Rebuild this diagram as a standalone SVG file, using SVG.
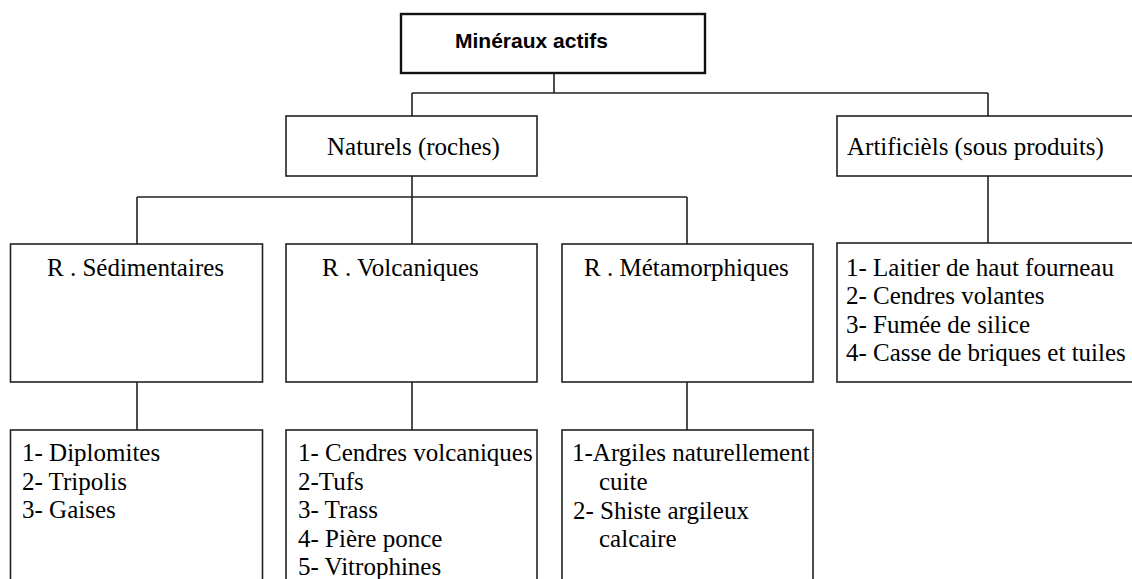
<svg xmlns="http://www.w3.org/2000/svg" width="1132" height="579" viewBox="0 0 1132 579">
<style>
.box{fill:#fff;stroke:#222;stroke-width:1.6}
.top{fill:#fff;stroke:#111;stroke-width:2.4}
.ln{fill:none;stroke:#222;stroke-width:1.6}
.t{font-family:"Liberation Serif","Times New Roman",serif;font-size:25px;fill:#000}
.b{font-family:"Liberation Sans",Arial,sans-serif;font-size:21px;font-weight:bold;fill:#000}
</style>
<rect width="1132" height="579" fill="#fff"/>
<g id="connectors">
<path class="ln" d="M554,73 V93 M412,93 H988 M412,93 V116 M988,93 V116"/>
<path class="ln" d="M412,176 V197 M137,197 H687 M137,197 V244 M412,197 V244 M687,197 V244"/>
<path class="ln" d="M988,176 V243"/>
<path class="ln" d="M137,382 V430 M412,382 V430 M687,382 V430"/>
</g>
<g id="n-mineraux">
<rect class="top" x="401" y="14" width="304" height="59"/>
<text class="b" x="455" y="48">Minéraux actifs</text>
</g>
<g id="n-naturels">
<rect class="box" x="286" y="116" width="251" height="60"/>
<text class="t" x="327" y="155">Naturels (roches)</text>
</g>
<g id="n-artificiels">
<rect class="box" x="837" y="116" width="302" height="60"/>
<text class="t" x="847" y="155">Artificièls (sous produits)</text>
</g>
<g id="n-sedimentaires">
<rect class="box" x="10.5" y="244" width="252" height="138"/>
<text class="t" x="47" y="276">R . Sédimentaires</text>
</g>
<g id="n-volcaniques">
<rect class="box" x="286" y="244" width="251" height="138"/>
<text class="t" x="322" y="276">R . Volcaniques</text>
</g>
<g id="n-metamorphiques">
<rect class="box" x="562" y="244" width="251" height="138"/>
<text class="t" x="584" y="276">R . Métamorphiques</text>
</g>
<g id="n-artificiels-list">
<rect class="box" x="837" y="243" width="302" height="139"/>
<text class="t" x="846" y="276">1- Laitier de haut fourneau</text>
<text class="t" x="846" y="304">2- Cendres volantes</text>
<text class="t" x="846" y="333">3- Fumée de silice</text>
<text class="t" x="846" y="361">4- Casse de briques et tuiles</text>
</g>
<g id="n-sed-list">
<rect class="box" x="10.5" y="430" width="252" height="160"/>
<text class="t" x="22" y="461">1- Diplomites</text>
<text class="t" x="22" y="490">2- Tripolis</text>
<text class="t" x="22" y="518">3- Gaises</text>
</g>
<g id="n-volc-list">
<rect class="box" x="286" y="430" width="251" height="160"/>
<text class="t" x="298" y="461">1- Cendres volcaniques</text>
<text class="t" x="298" y="490">2-Tufs</text>
<text class="t" x="298" y="518">3- Trass</text>
<text class="t" x="298" y="547">4- Pière ponce</text>
<text class="t" x="298" y="575">5- Vitrophines</text>
</g>
<g id="n-meta-list">
<rect class="box" x="562" y="430" width="251" height="160"/>
<text class="t" x="572" y="461">1-Argiles naturellement</text>
<text class="t" x="599" y="490">cuite</text>
<text class="t" x="573" y="519">2- Shiste argileux</text>
<text class="t" x="599" y="547">calcaire</text>
</g>
</svg>
